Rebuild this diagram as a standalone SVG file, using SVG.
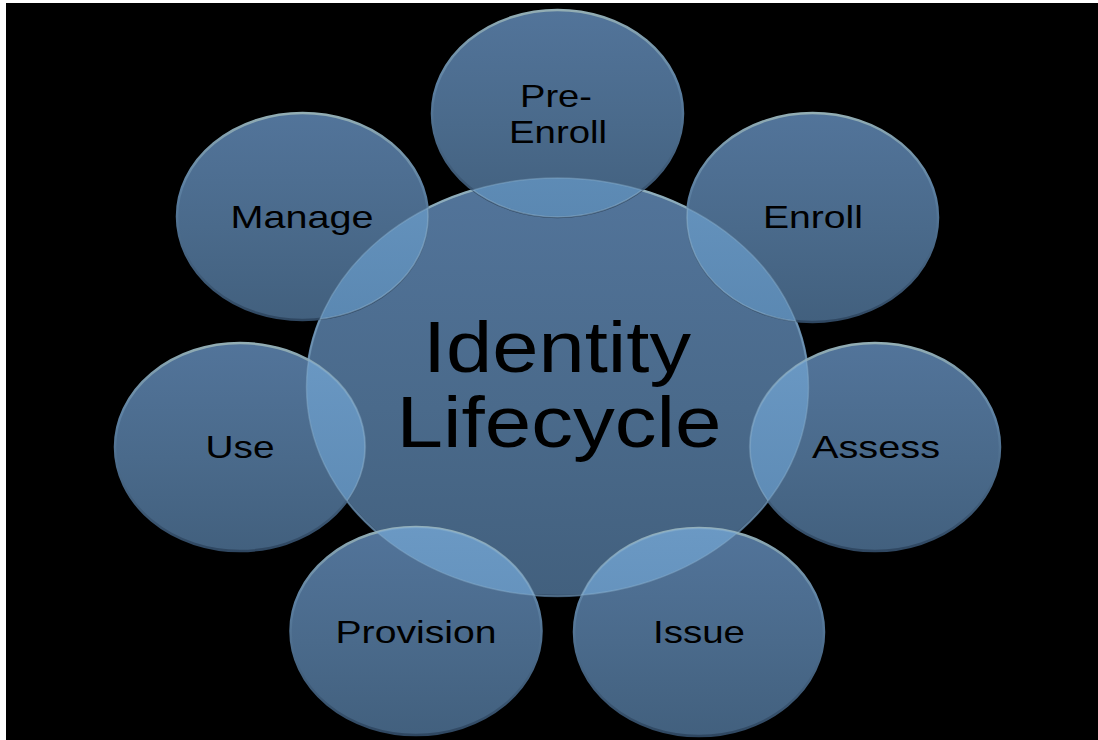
<svg xmlns="http://www.w3.org/2000/svg" width="1098" height="740" viewBox="0 0 1098 740">
  <defs>
    <linearGradient id="fillG" x1="0" y1="0" x2="0" y2="1">
      <stop offset="0" stop-color="#52749a"/>
      <stop offset="0.55" stop-color="#4a6a8b"/>
      <stop offset="1" stop-color="#42607e"/>
    </linearGradient>
    <linearGradient id="rimG" x1="0" y1="0" x2="0" y2="1">
      <stop offset="0" stop-color="#93aeb4"/>
      <stop offset="0.35" stop-color="#5d81a3"/>
      <stop offset="1" stop-color="#2f4761"/>
    </linearGradient>
    <linearGradient id="lensG" x1="0" y1="0" x2="0" y2="1">
      <stop offset="0" stop-color="#6f9fcb"/>
      <stop offset="1" stop-color="#5f8fbb"/>
    </linearGradient>
    <clipPath id="clipC">
      <ellipse cx="557.5" cy="387" rx="251" ry="209"/>
    </clipPath>
    <style>
      .bubble { fill: url(#fillG); stroke: url(#rimG); stroke-width: 2.5; }
      .lens { fill: url(#lensG); fill-opacity: 0.85; stroke: #8fb3cf; stroke-opacity: 0.5; stroke-width: 1.5; }
      .rim { fill: none; stroke: #8fb3cf; stroke-opacity: 0.4; stroke-width: 1.5; }
      .lbl { font-family: "Liberation Sans", Arial, sans-serif; font-size: 32px; fill: #000000; text-anchor: middle; }
      .big { font-family: "Liberation Sans", Arial, sans-serif; font-size: 73px; fill: #000000; text-anchor: middle; }
    </style>
  </defs>

  <rect x="0" y="0" width="1098" height="740" fill="#ffffff"/>
  <rect x="6" y="3" width="1092" height="737" fill="#000000"/>

  <g id="node-center">
    <ellipse class="bubble" cx="557.5" cy="387" rx="251" ry="209"/>
    <text class="big" x="557" y="372" textLength="268" lengthAdjust="spacingAndGlyphs">Identity</text>
    <text class="big" x="559" y="447" textLength="325" lengthAdjust="spacingAndGlyphs">Lifecycle</text>
  </g>

  <g id="node-pre-enroll">
    <ellipse class="bubble" cx="557.5" cy="113.5" rx="125.5" ry="103.5"/>
    <ellipse class="lens" cx="557.5" cy="113.5" rx="125.5" ry="103.5" clip-path="url(#clipC)"/>
    <text class="lbl" x="556" y="107" textLength="72" lengthAdjust="spacingAndGlyphs">Pre-</text>
    <text class="lbl" x="558" y="143" textLength="98" lengthAdjust="spacingAndGlyphs">Enroll</text>
  </g>

  <g id="node-enroll">
    <ellipse class="bubble" cx="812.5" cy="217.5" rx="125.5" ry="104.5"/>
    <ellipse class="lens" cx="812.5" cy="217.5" rx="125.5" ry="104.5" clip-path="url(#clipC)"/>
    <text class="lbl" x="813" y="228" textLength="100" lengthAdjust="spacingAndGlyphs">Enroll</text>
  </g>

  <g id="node-assess">
    <ellipse class="bubble" cx="875" cy="447" rx="125" ry="104"/>
    <ellipse class="lens" cx="875" cy="447" rx="125" ry="104" clip-path="url(#clipC)"/>
    <text class="lbl" x="876" y="458" textLength="128" lengthAdjust="spacingAndGlyphs">Assess</text>
  </g>

  <g id="node-issue">
    <ellipse class="bubble" cx="699" cy="632" rx="125" ry="104"/>
    <ellipse class="lens" cx="699" cy="632" rx="125" ry="104" clip-path="url(#clipC)"/>
    <text class="lbl" x="699" y="643" textLength="92" lengthAdjust="spacingAndGlyphs">Issue</text>
  </g>

  <g id="node-provision">
    <ellipse class="bubble" cx="416" cy="631" rx="125.5" ry="104"/>
    <ellipse class="lens" cx="416" cy="631" rx="125.5" ry="104" clip-path="url(#clipC)"/>
    <text class="lbl" x="416" y="643" textLength="161" lengthAdjust="spacingAndGlyphs">Provision</text>
  </g>

  <g id="node-use">
    <ellipse class="bubble" cx="240" cy="447" rx="125" ry="104"/>
    <ellipse class="lens" cx="240" cy="447" rx="125" ry="104" clip-path="url(#clipC)"/>
    <text class="lbl" x="240" y="458" textLength="69" lengthAdjust="spacingAndGlyphs">Use</text>
  </g>

  <g id="node-manage">
    <ellipse class="bubble" cx="302.5" cy="216.5" rx="125.5" ry="103.5"/>
    <ellipse class="lens" cx="302.5" cy="216.5" rx="125.5" ry="103.5" clip-path="url(#clipC)"/>
    <text class="lbl" x="302" y="228" textLength="143" lengthAdjust="spacingAndGlyphs">Manage</text>
  </g>

  <g id="center-rim">
    <ellipse class="rim" cx="557.5" cy="387" rx="251" ry="209"/>
  </g>
</svg>
